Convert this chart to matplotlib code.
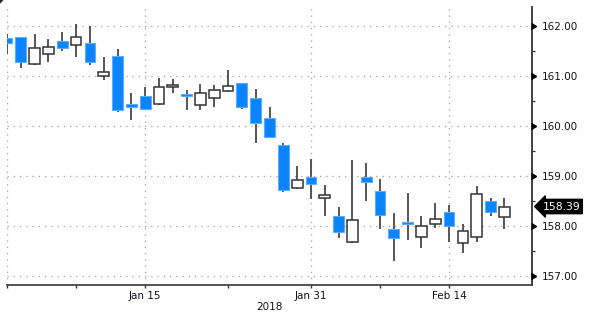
import matplotlib
matplotlib.use("Agg")
import matplotlib.pyplot as plt
import matplotlib.transforms as mtransforms
from matplotlib.patches import Polygon

# daily candles, Jan 1 - Feb 20 2018 (trading days only)
dates = ['Jan 1', 'Jan 2', 'Jan 3', 'Jan 4', 'Jan 5',
         'Jan 8', 'Jan 9', 'Jan 10', 'Jan 11', 'Jan 12',
         'Jan 15', 'Jan 16', 'Jan 17', 'Jan 18', 'Jan 19',
         'Jan 22', 'Jan 23', 'Jan 24', 'Jan 25', 'Jan 26',
         'Jan 29', 'Jan 30', 'Jan 31', 'Feb 1', 'Feb 2',
         'Feb 5', 'Feb 6', 'Feb 7', 'Feb 8', 'Feb 9',
         'Feb 12', 'Feb 13', 'Feb 14', 'Feb 15', 'Feb 16',
         'Feb 19', 'Feb 20']
opens = [161.75, 161.77, 161.25, 161.43, 161.69,
         161.63, 161.66, 160.99, 161.39, 160.43,
         160.59, 160.45, 160.78, 160.63, 160.42,
         160.55, 160.70, 160.85, 160.57, 160.15,
         159.61, 158.75, 158.97, 158.56, 158.20,
         157.69, 158.97, 158.70, 157.93, 158.07,
         157.77, 158.04, 158.27, 157.67, 157.79,
         158.51, 158.19]
highs = [161.85, 161.78, 161.83, 161.74, 161.87,
         162.03, 162.00, 161.37, 161.54, 160.65,
         160.77, 160.97, 160.95, 160.71, 160.85,
         160.82, 161.13, 160.86, 160.75, 160.37,
         159.65, 159.20, 159.34, 158.82, 158.37,
         159.31, 159.25, 158.93, 158.25, 158.67,
         158.20, 158.47, 158.42, 158.03, 158.80,
         158.55, 158.57]
lows = [161.45, 161.17, 161.21, 161.27, 161.51,
        161.39, 161.21, 160.92, 160.29, 160.13,
        160.33, 160.42, 160.67, 160.31, 160.32,
        160.39, 160.69, 160.33, 159.67, 159.75,
        158.69, 158.74, 158.53, 158.20, 157.75,
        157.65, 158.51, 157.94, 157.30, 157.73,
        157.57, 157.97, 157.69, 157.47, 157.69,
        158.20, 157.93]
closes = [161.67, 161.27, 161.57, 161.57, 161.57,
          161.79, 161.29, 161.07, 160.31, 160.37,
          160.34, 160.77, 160.82, 160.59, 160.65,
          160.73, 160.80, 160.39, 160.05, 159.79,
          158.72, 158.92, 158.83, 158.61, 157.89,
          158.12, 158.87, 158.23, 157.75, 158.05,
          158.00, 158.13, 158.00, 157.90, 158.63,
          158.29, 158.39]

major_dates = ['Jan 1', 'Jan 15', 'Jan 31', 'Feb 14']
major_labels = ['', 'Jan 15', 'Jan 31', 'Feb 14']
minor_dates = ['Jan 8', 'Jan 23', 'Feb 7']
y_levels = [157, 158, 159, 160, 161, 162]

BLUE = '#0a84ff'
BLUE_EDGE = '#5cadff'
DARK = '#333333'

fig = plt.figure(figsize=(6.0, 3.24), dpi=100, facecolor='white')
ax = fig.add_axes([7 / 600, 39 / 324, 525 / 600, 278 / 324])
ax.set_facecolor('white')

xs = list(range(len(dates)))

# wicks
ax.vlines(xs, lows, highs, color='#3a3a3a', lw=1.2, zorder=2)

# bodies
for x, o, c in zip(xs, opens, closes):
    up = c >= o
    h = abs(c - o)
    bottom = min(o, c)
    if h < 0.04:
        bottom = (o + c) / 2 - 0.02
        h = 0.04
    if up:
        ax.bar(x, h, bottom=bottom, width=0.78, color='white',
               edgecolor=DARK, lw=1.1, zorder=3)
    else:
        ax.bar(x, h, bottom=bottom, width=0.78, color=BLUE,
               edgecolor=BLUE_EDGE, lw=0.8, zorder=3)

# grid
grid_kw = dict(color='#a0a0a0', lw=0.9, ls=(0, (1, 4)), zorder=1)
for v in y_levels:
    ax.axhline(v, **grid_kw)
for d in major_dates:
    ax.axvline(dates.index(d), **grid_kw)

# spines
for s in ['top', 'left']:
    ax.spines[s].set_visible(False)
ax.spines['bottom'].set_color('#444444')
ax.spines['bottom'].set_linewidth(1.3)
ax.spines['right'].set_color('#333333')
ax.spines['right'].set_linewidth(1.3)

# x axis
ax.set_xticks([dates.index(d) for d in major_dates])
ax.set_xticklabels(major_labels)
ax.set_xticks([dates.index(d) for d in minor_dates], minor=True)
ax.tick_params(axis='x', which='major', direction='out', length=2.5, width=1.0,
               color='#333333', pad=2, labelsize=7.5, labelcolor='#111122')
ax.tick_params(axis='x', which='minor', direction='out', length=1.8, width=1.0,
               color='#333333')

# y axis on the right
ax.yaxis.tick_right()
ax.set_yticks(y_levels)
ax.set_yticklabels([f'{v:.2f}' for v in y_levels])
ax.set_yticks([v + 0.5 for v in y_levels[:-1]], minor=True)
ax.tick_params(axis='y', which='major', direction='out', length=3, width=1.0,
               color='#222222', pad=4, labelsize=7.5, labelcolor='#111122')
ax.tick_params(axis='y', which='minor', direction='out', length=2.2, width=0.9,
               color='#333333')

ax.set_xlim(0, 38)
ax.set_ylim(156.82, 162.38)

trans = mtransforms.blended_transform_factory(ax.transAxes, ax.transData)
mark_trans = mtransforms.offset_copy(trans, fig=fig, x=3.2, y=0, units='points')
ax.plot([1.0] * len(y_levels), y_levels, transform=mark_trans, ls='',
        marker=5, ms=4.5, color='black', clip_on=False, zorder=5)

# last price tag
last = closes[-1]
tag_trans = mtransforms.offset_copy(trans, fig=fig, x=7.5, y=0, units='points')
ax.text(1.0, last, f'{last:.2f}', transform=tag_trans, ha='left', va='center',
        fontsize=7.8, color='white', clip_on=False, zorder=6,
        bbox=dict(boxstyle='larrow,pad=0.2', fc='black', ec='black'))

fig.text(269 / 600, 1 - 307 / 324, '2018', ha='center', va='center',
         fontsize=7.5, color='#111122')

# small corner mark
fig.patches.append(Polygon([(0, 1), (0.006, 1), (0, 0.988)], closed=True,
                           transform=fig.transFigure, fc='#1f2d4d', ec='none'))

fig.savefig('out.png', dpi=100, facecolor='white')
